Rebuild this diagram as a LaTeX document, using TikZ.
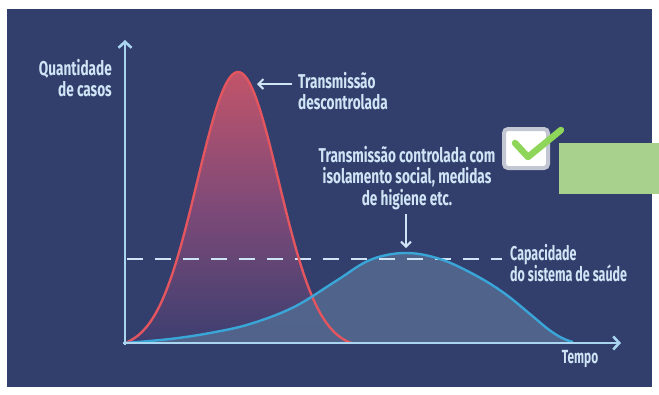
\documentclass[tikz,border=0pt]{standalone}
\usepackage{fontspec}
\setmainfont{Fira Sans}[FakeStretch=0.68]
\newfontfamily\narrowfont{Fira Sans}[FakeStretch=0.625]
\usetikzlibrary{arrows.meta}
\definecolor{bg}{HTML}{323E6C}
\definecolor{axis}{HTML}{A9D5F0}
\definecolor{lab}{HTML}{CFE5F5}
\definecolor{redline}{HTML}{E3555F}
\definecolor{redtop}{HTML}{C2546A}
\definecolor{redmid}{HTML}{7E4A78}
\definecolor{redbot}{HTML}{3C3F70}
\definecolor{blueline}{HTML}{3AA6D8}
\definecolor{bluefill}{HTML}{53678E}
\definecolor{boxgray}{HTML}{C3C6D3}
\definecolor{checkgreen}{HTML}{8ED65A}
\definecolor{rectgreen}{HTML}{A9D18E}
\tikzset{
  label/.style={text=lab, font=\fontsize{20}{21.5}\selectfont\bfseries, inner sep=0pt},
  narrowlabel/.style={text=lab, font=\narrowfont\fontsize{20}{21.5}\selectfont\bfseries, inner sep=0pt},
  axisline/.style={draw=axis, line width=2.6pt, -{Straight Barb[length=6pt,width=13pt,line width=2.6pt]}},
  pointer/.style={draw=lab, line width=2pt, -{Straight Barb[length=5pt,width=10pt,line width=2pt]}},
}
\pgfmathdeclarefunction{redc}{1}{\pgfmathparse{343-271*max(0,exp(-((#1-238)^2)/3300)-0.021)/0.979}}
\begin{document}
\begin{tikzpicture}[x=1pt,y=-1pt]
\useasboundingbox (0,0) rectangle (659,394);
\fill[white] (0,0) rectangle (659,394);
\fill[bg] (7,9) rectangle (652,387);
% coordinates
\coordinate (O) at (123,343);
\coordinate (ytop) at (125,40);
\coordinate (xend) at (621,343);
% red curve fill
\fill[top color=redtop, bottom color=redbot, middle color=redmid]
  plot[domain=125:352, samples=90] (\x,{redc(\x)}) -- (352,343) -- (125,343) -- cycle;
% blue fill
\fill[bluefill, opacity=0.92] plot[smooth, tension=0.6] coordinates {(125,343) (170,339) (210,333) (250,324) (294,307) (336,281) (370,260) (405,253) (440,259) (475,275) (504,293) (530,314) (548,329) (562,338) (573,342)} -- cycle;
% dashed capacity line
\draw[lab, line width=2.8pt, dash pattern=on 16pt off 12pt] (127,259) -- (502,259);
% red line
\draw[redline, line width=2.4pt, line join=round]
  plot[domain=125:352, samples=90] (\x,{redc(\x)});
% blue line
\draw[blueline, line width=2.4pt] plot[smooth, tension=0.6] coordinates {(125,343) (170,339) (210,333) (250,324) (294,307) (336,281) (370,260) (405,253) (440,259) (475,275) (504,293) (530,314) (548,329) (562,338) (573,342)};
% axes
\draw[axisline] (125,345) -- (ytop);
\draw[axisline] (O) -- (xend);
% labels
\node[label, anchor=east, align=right] (qty) at (112,78) {Quantidade\\de casos};
\node[label, anchor=west, align=left] (desc) at (298,91) {Transmissão\\descontrolada};
\node[label, align=center] (ctrl) at (407,178) {Transmissão controlada com\\isolamento social, medidas\\de higiene etc.};
\node[narrowlabel, anchor=west, align=left] (cap) at (510,263) {Capacidade\\do sistema de saúde};
\node[narrowlabel, font=\narrowfont\fontsize{19}{21}\selectfont\bfseries] (tempo) at (580,359) {Tempo};
% pointers
\coordinate (redpk) at (257,84);
\coordinate (bluepk) at (406,248);
\draw[pointer] (desc.west |- redpk) ++(-6,0) -- (redpk);
\draw[pointer] (ctrl.south -| bluepk) ++(0,4) -- (bluepk);
% checkbox
\node[draw=boxgray, line width=4pt, fill=white, rounded corners=4pt, minimum width=44pt, minimum height=39pt, inner sep=0pt] (box) at (526,148.5) {};
\draw[checkgreen, line width=6.5pt, line cap=round, line join=round] (515,143) -- (528,157) -- (561,130);
% green rectangle
\fill[rectgreen] (559,143) rectangle (659,194);
\end{tikzpicture}
\end{document}
